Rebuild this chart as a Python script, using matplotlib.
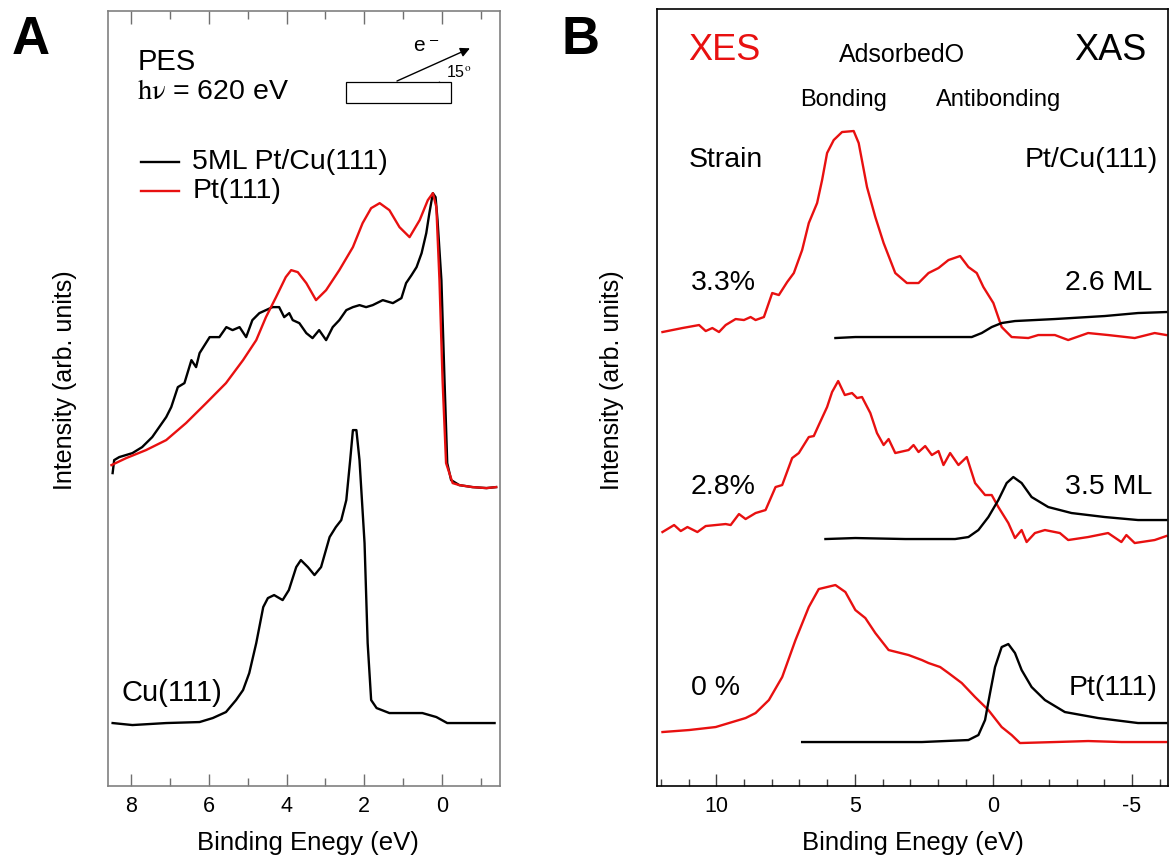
import matplotlib.pyplot as plt
import matplotlib.ticker as mticker
from matplotlib.patches import Rectangle, Arc
import numpy as np

plt.rcParams['font.family'] = ['Liberation Sans', 'DejaVu Sans']
plt.rcParams['mathtext.fontset'] = 'stix'
plt.rcParams['axes.unicode_minus'] = False

RED = '#e81010'

# ---- Panel A: PES, binding energy (eV) vs intensity (arb.)
pt_cu_e = [8.48, 8.44, 8.31, 7.97, 7.72, 7.46, 7.28, 7.10, 6.97, 6.80, 6.63, 6.45, 6.33, 6.24,
           5.98, 5.73, 5.55, 5.39, 5.21, 5.04, 4.88, 4.70, 4.53, 4.36, 4.19, 4.06, 3.93, 3.84,
           3.67, 3.49, 3.33, 3.16, 2.98, 2.81, 2.64, 2.46, 2.29, 2.12, 1.95, 1.78, 1.52, 1.26,
           1.04, 0.92, 0.78, 0.65, 0.52, 0.40, 0.32, 0.23, 0.16, 0.11, 0.01, -0.07, -0.14,
           -0.24, -0.45, -0.79, -1.15, -1.40]
pt_cu_i = [313, 326, 329, 333, 339, 349, 359, 369, 379, 399, 403, 426, 419, 433,
           449, 449, 459, 456, 459, 449, 466, 473, 476, 479, 479, 469, 473, 466,
           463, 453, 448, 456, 446, 459, 466, 476, 479, 481, 479, 481, 486, 483,
           488, 503, 511, 519, 533, 553, 573, 593, 589, 566, 506, 406, 323,
           306, 301, 299, 298, 299]

pt111_e = [8.51, 8.13, 7.62, 7.10, 6.59, 6.07, 5.56, 5.12, 4.78, 4.53, 4.27, 4.02, 3.88, 3.71,
           3.49, 3.24, 2.98, 2.64, 2.29, 2.04, 1.82, 1.60, 1.35, 1.09, 0.83, 0.57, 0.36, 0.23,
           0.14, 0.06, -0.02, -0.11, -0.28, -0.45, -0.79, -1.15, -1.40]
pt111_i = [321, 328, 336, 346, 363, 383, 403, 426, 446, 469, 489, 509, 516, 514,
           503, 486, 496, 516, 539, 563, 578, 583, 576, 559, 549, 566, 586, 593,
           579, 506, 406, 323, 303, 301, 299, 298, 299]

cu111_e = [8.48, 7.97, 7.10, 6.24, 5.90, 5.56, 5.30, 5.12, 4.96, 4.78, 4.60, 4.48, 4.32, 4.10,
           3.94, 3.75, 3.63, 3.45, 3.28, 3.11, 2.89, 2.73, 2.59, 2.46, 2.36, 2.29, 2.20, 2.12,
           1.99, 1.91, 1.82, 1.68, 1.35, 0.50, 0.14, -0.14, -1.36]
cu111_i = [63, 61, 63, 64, 68, 74, 86, 96, 113, 143, 179, 188, 191, 186,
           196, 219, 226, 219, 211, 219, 249, 259, 266, 286, 326, 356, 356, 326,
           243, 143, 86, 78, 73, 73, 69, 63, 63]

# ---- Panel B: XES (red) and XAS (black) of adsorbed O
xes33_e = [11.94, 11.22, 10.62, 10.38, 10.14, 9.90, 9.66, 9.30, 9.00, 8.76, 8.58, 8.28, 7.98,
           7.74, 7.44, 7.20, 6.90, 6.66, 6.36, 6.18, 6.00, 5.76, 5.46, 5.04, 4.86, 4.56, 4.26,
           3.96, 3.54, 3.12, 2.70, 2.34, 1.98, 1.62, 1.20, 0.90, 0.60, 0.36, 0.00, -0.30,
           -0.66, -1.26, -1.62, -2.22, -2.70, -3.42, -4.14, -5.10, -5.82, -6.24]
xes33_i = [454, 458, 461, 455, 458, 454, 461, 467, 466, 469, 466, 469, 493,
           491, 504, 513, 536, 563, 583, 606, 633, 646, 654, 655, 643, 599, 569,
           543, 513, 503, 503, 513, 518, 526, 530, 519, 513, 499, 483, 459,
           449, 448, 451, 451, 446, 453, 451, 448, 453, 451]

xas26_e = [5.70, 4.98, 3.78, 1.98, 0.78, 0.42, 0.06, -0.30, -0.78, -2.22, -4.02, -5.22, -6.24]
xas26_i = [448, 449, 449, 449, 449, 453, 459, 463, 465, 467, 470, 473, 474]

xes28_e = [11.94, 11.52, 11.28, 11.04, 10.68, 10.38, 9.66, 9.48, 9.18, 8.94, 8.58, 8.22, 7.86,
           7.62, 7.26, 7.02, 6.66, 6.48, 6.30, 6.00, 5.82, 5.60, 5.36, 5.10, 4.92, 4.74, 4.44,
           4.20, 3.96, 3.78, 3.54, 3.06, 2.88, 2.70, 2.46, 2.22, 1.98, 1.80, 1.56, 1.26, 0.96,
           0.66, 0.30, 0.06, -0.18, -0.54, -0.78, -1.02, -1.20, -1.50, -1.86, -2.40, -2.70,
           -3.42, -4.14, -4.62, -4.80, -5.10, -5.82, -6.24]
xes28_i = [254, 261, 255, 259, 254, 260, 262, 261, 272, 267, 273, 276, 299,
           301, 328, 333, 349, 350, 361, 379, 394, 405, 391, 393, 388, 389, 373,
           353, 341, 347, 333, 336, 341, 334, 340, 331, 335, 321, 333, 321, 329,
           303, 291, 291, 279, 263, 248, 256, 244, 253, 256, 253, 246,
           249, 253, 244, 251, 243, 246, 250]

xas35_e = [6.06, 4.98, 3.18, 1.38, 0.90, 0.54, 0.18, -0.18, -0.48, -0.72, -1.02, -1.38, -1.98,
           -2.82, -4.02, -5.22, -6.24]
xas35_i = [247, 248, 247, 247, 249, 256, 269, 286, 303, 309, 303, 289, 279,
           273, 269, 266, 266]

xes0_e = [11.94, 10.98, 10.02, 9.54, 8.94, 8.58, 8.10, 7.62, 7.14, 6.66, 6.30, 5.70, 5.34, 4.98,
          4.62, 4.26, 3.78, 3.06, 2.58, 2.34, 1.92, 1.62, 1.14, 0.66, 0.18, -0.30, -0.66,
          -0.96, -2.22, -3.42, -4.62, -6.24]
xes0_i = [54, 56, 59, 63, 68, 73, 86, 109, 146, 179, 197, 201, 194, 176,
          168, 153, 136, 131, 126, 123, 119, 113, 103, 89, 76, 59, 51,
          43, 44, 45, 44, 44]

xas0_e = [6.90, 4.98, 2.58, 0.90, 0.54, 0.30, 0.12, -0.06, -0.30, -0.54, -0.78, -1.02, -1.38,
          -1.86, -2.58, -3.78, -5.22, -6.24]
xas0_i = [44, 44, 44, 46, 51, 66, 93, 119, 139, 142, 133, 116, 99,
          86, 74, 68, 63, 63]

fig = plt.figure(figsize=(11.71, 8.6), dpi=100)

# ================= Panel A =================
axA = fig.add_axes([0.0922, 0.086, 0.3348, 0.901])
axA.plot(pt_cu_e, pt_cu_i, color='black', lw=1.7)
axA.plot(pt111_e, pt111_i, color=RED, lw=1.7)
axA.plot(cu111_e, cu111_i, color='black', lw=1.7)
axA.set_xlim(8.6, -1.5)
axA.set_ylim(0, 775)
axA.set_yticks([])
axA.xaxis.set_major_locator(mticker.MultipleLocator(2))
axA.xaxis.set_minor_locator(mticker.MultipleLocator(1))
axA.tick_params(axis='x', which='both', direction='in', top=True, colors='#707070',
                labelcolor='black', labelsize=15.5, pad=7)
axA.tick_params(axis='x', which='major', length=9, width=1)
axA.tick_params(axis='x', which='minor', length=6, width=1)
for s in axA.spines.values():
    s.set_color('#808080')
    s.set_linewidth(1.2)

axA.text(7.84, 724, 'PES', fontsize=21, va='center', ha='left')
axA.text(7.84, 694, r'$\mathrm{h\nu}$ = 620 eV', fontsize=20.5, va='center', ha='left')
axA.plot([7.74, 6.76], [624, 624], color='black', lw=1.7)
axA.plot([7.74, 6.76], [595, 595], color=RED, lw=1.7)
axA.text(6.43, 624, '5ML Pt/Cu(111)', fontsize=20.5, va='center', ha='left')
axA.text(6.43, 595, 'Pt(111)', fontsize=20.5, va='center', ha='left')
axA.text(8.26, 93, 'Cu(111)', fontsize=21, va='center', ha='left')

# geometry sketch
axA.add_patch(Rectangle((-0.25, 683), 2.71, 21, fill=False, edgecolor='black', lw=0.9))
axA.annotate('', xy=(-0.79, 739), xytext=(1.22, 704),
             arrowprops=dict(arrowstyle='-|>', color='black', lw=1.0, mutation_scale=14))
axA.add_patch(Arc((1.22, 704), 2.32, 90, theta1=156, theta2=180, color='black', lw=0.9))
axA.text(-0.12, 714, r'15$^{\mathrm{o}}$', fontsize=11.5, va='center', ha='left')
axA.text(0.75, 740, r'e$^{\,-}$', fontsize=15, va='center', ha='left')

fig.text(0.0555, 0.558, 'Intensity (arb. units)', rotation=90, fontsize=18,
         ha='center', va='center')
fig.text(0.263, 0.02, 'Binding Enegy (eV)', fontsize=18.5, ha='center', va='center')
fig.text(0.026, 0.953, 'A', fontsize=38, fontweight='bold', ha='center', va='center')

# ================= Panel B =================
axB = fig.add_axes([0.561, 0.086, 0.4364, 0.9035])
axB.plot(xes33_e, xes33_i, color=RED, lw=1.7)
axB.plot(xas26_e, xas26_i, color='black', lw=1.7)
axB.plot(xes28_e, xes28_i, color=RED, lw=1.7)
axB.plot(xas35_e, xas35_i, color='black', lw=1.7)
axB.plot(xes0_e, xes0_i, color=RED, lw=1.7)
axB.plot(xas0_e, xas0_i, color='black', lw=1.7)
axB.set_xlim(12.14, -6.3)
axB.set_ylim(0, 777)
axB.set_yticks([])
axB.xaxis.set_major_locator(mticker.MultipleLocator(5))
axB.xaxis.set_minor_locator(mticker.MultipleLocator(1))
axB.tick_params(axis='x', which='both', direction='in', labelsize=15.5, pad=7, colors='#404040',
                labelcolor='black')
axB.tick_params(axis='x', which='major', length=9, width=1)
axB.tick_params(axis='x', which='minor', length=5, width=1)
for s in axB.spines.values():
    s.set_color('black')
    s.set_linewidth(1.2)

axB.text(11.0, 736, 'XES', color=RED, fontsize=26, va='center', ha='left')
axB.text(3.31, 731, 'AdsorbedO', fontsize=18, va='center', ha='center')
axB.text(-5.54, 736, 'XAS', fontsize=26, va='center', ha='right')
axB.text(5.39, 686, 'Bonding', fontsize=17, va='center', ha='center')
axB.text(-0.2, 686, 'Antibonding', fontsize=17, va='center', ha='center')
axB.text(11.0, 626, 'Strain', fontsize=20.5, va='center', ha='left')
axB.text(-5.93, 626, 'Pt/Cu(111)', fontsize=20.5, va='center', ha='right')
axB.text(10.92, 503, '3.3%', fontsize=20.5, va='center', ha='left')
axB.text(-5.75, 503, '2.6 ML', fontsize=20.5, va='center', ha='right')
axB.text(10.92, 299, '2.8%', fontsize=20.5, va='center', ha='left')
axB.text(-5.75, 299, '3.5 ML', fontsize=20.5, va='center', ha='right')
axB.text(10.92, 98, '0 %', fontsize=20.5, va='center', ha='left')
axB.text(-5.93, 98, 'Pt(111)', fontsize=20.5, va='center', ha='right')

fig.text(0.5226, 0.558, 'Intensity (arb. units)', rotation=90, fontsize=18,
         ha='center', va='center')
fig.text(0.78, 0.02, 'Binding Enegy (eV)', fontsize=18.5, ha='center', va='center')
fig.text(0.496, 0.953, 'B', fontsize=38, fontweight='bold', ha='center', va='center')

fig.savefig('out.png', dpi=100)
